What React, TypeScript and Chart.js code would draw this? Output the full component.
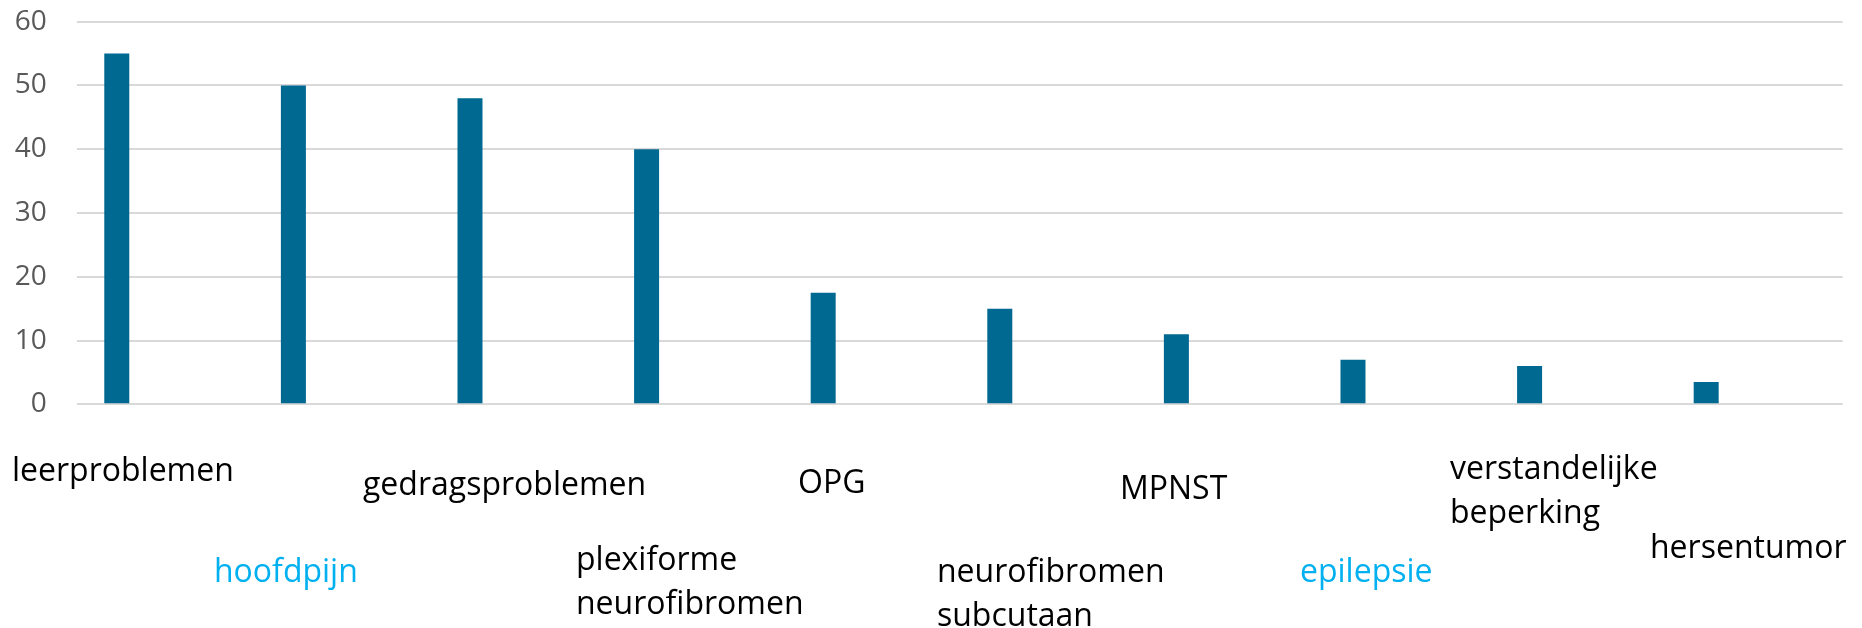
import React, { useEffect, useRef } from "react";
import { Chart, registerables } from "chart.js";

Chart.register(...registerables);

// ---- data ----
const categories: string[][] = [
  ["leerproblemen"],
  ["hoofdpijn"],
  ["gedragsproblemen"],
  ["plexiforme", "neurofibromen"],
  ["OPG"],
  ["neurofibromen", "subcutaan"],
  ["MPNST"],
  ["epilepsie"],
  ["verstandelijke", "beperking"],
  ["hersentumor"],
];
const values: number[] = [55, 50, 48, 40, 17.5, 15, 11, 7, 6, 3.5];
const labelColors: string[] = [
  "#000000", "#00B0F0", "#000000", "#000000", "#000000",
  "#000000", "#000000", "#00B0F0", "#000000", "#000000",
];
const yTicks: number[] = [0, 10, 20, 30, 40, 50, 60];

// ---- label layout (offsets from bar centre / plot bottom) ----
const labelDx: number[] = [-104.8, -79.4, -107, -70.6, -25.2, -62.8, -56.4, -53, -79.6, -56.2];
const labelDy: number[] = [76.7, 177.7, 90.7, 165.7, 88.7, 177.7, 94.7, 177.7, 74.7, 153.7];
const LINE_H = 44;
const FONT = '"Open Sans", "Noto Sans", sans-serif';

const labelPlugin = {
  id: "freeLabels",
  afterDraw(chart: any) {
    const { ctx, chartArea } = chart;
    const xs = chart.scales.x;
    ctx.save();
    ctx.font = `32px ${FONT}`;
    ctx.textAlign = "left";
    ctx.textBaseline = "alphabetic";
    categories.forEach((lines, i) => {
      const cx = xs.getPixelForValue(i);
      ctx.fillStyle = labelColors[i];
      lines.forEach((t, k) => {
        ctx.fillText(t, cx + labelDx[i], chartArea.bottom + labelDy[i] + k * LINE_H);
      });
    });
    ctx.restore();
  },
};

export default function App() {
  const ref = useRef<HTMLCanvasElement | null>(null);
  useEffect(() => {
    if (!ref.current) return;
    const chart = new Chart(ref.current, {
      type: "bar",
      data: {
        datasets: [
          {
            data: values.map((v, i) => ({ x: i, y: v })),
            backgroundColor: "#006991",
            borderWidth: 0,
            categoryPercentage: 1,
            barPercentage: 0.1416,
          },
        ],
      },
      plugins: [labelPlugin],
      options: {
        responsive: false,
        animation: false,
        layout: { padding: { top: 21.7, right: 19.3, bottom: 223.7, left: 0 } },
        plugins: { legend: { display: false }, tooltip: { enabled: false } },
        scales: {
          x: {
            type: "linear",
            display: false,
            offset: false,
            min: -0.2270,
            max: 9.7730,
            grid: { offset: false },
          },
          y: {
            min: 0,
            max: 60,
            afterBuildTicks: (s: any) => {
              s.ticks = yTicks.map((v) => ({ value: v }));
            },
            afterFit: (s: any) => {
              s.width = 76.7;
              s.paddingTop = 0;
              s.paddingBottom = 0;
            },
            grid: { color: "#D9D9D9", lineWidth: 2, drawTicks: false },
            border: { display: false },
            ticks: {
              padding: 30,
              color: "#595959",
              font: { family: FONT, size: 28 },
            },
          },
        },
      },
    });
    return () => chart.destroy();
  }, []);
  return (
    <div style={{ position: "absolute", left: 0, top: 0, width: 1862, height: 628, background: "#fff" }}>
      <canvas ref={ref} width={1862} height={628} style={{ display: "block" }} />
    </div>
  );
}
